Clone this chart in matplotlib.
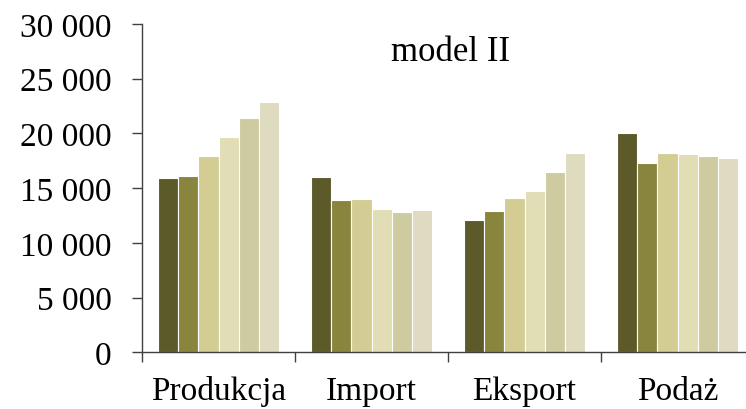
import matplotlib
matplotlib.use("Agg")
import matplotlib.pyplot as plt
import numpy as np
from matplotlib.ticker import FuncFormatter, FixedLocator

categories = ["Produkcja", "Import", "Eksport", "Podaż"]
series = [
    [15900, 16000, 12100, 20050],
    [16100, 13900, 12950, 17300],
    [17950, 14050, 14100, 18250],
    [19650, 13100, 14750, 18150],
    [21450, 12850, 16450, 17950],
    [22850, 13000, 18250, 17750],
]
colors = ["#5d5a2a", "#8a853e", "#d3cd94", "#e1ddb5", "#cfcba1", "#dedbc1"]
title = "model II"

W, H = 746, 410
fig = plt.figure(figsize=(W / 100, H / 100), dpi=100)
x0, x1 = 142, 754
y0, y1 = 353.3, 25
ax = fig.add_axes([x0 / W, (H - y0) / H, (x1 - x0) / W, (y0 - y1) / H])

font = "Liberation Serif"
fs = 24
n = len(series)
group = 0.79
bw = group / n
xc = np.arange(len(categories))
for i, vals in enumerate(series):
    ax.bar(xc - group / 2 + bw * (i + 0.5), vals, width=bw, color=colors[i],
           edgecolor="white", linewidth=0.8, zorder=2)

ax.set_xlim(-0.5, len(categories) - 0.5)
ax.set_ylim(0, 30000)
ax.set_yticks(np.arange(0, 30001, 5000))
ax.yaxis.set_major_formatter(FuncFormatter(lambda v, p: f"{int(v):,}".replace(",", " ")))
ax.xaxis.set_major_locator(FixedLocator(np.arange(len(categories) + 1) - 0.5))
ax.xaxis.set_minor_locator(FixedLocator(xc))
ax.set_xticklabels([], minor=False)
ax.set_xticklabels(categories, minor=True)
ax.tick_params(axis="x", which="major", direction="out", length=7, width=1, color="#404040")
ax.tick_params(axis="x", which="minor", length=0, pad=16.5, labelsize=fs)
ax.tick_params(axis="y", direction="out", length=7, width=1, color="#404040", labelsize=fs, pad=15)
for lab in ax.get_xticklabels(minor=True) + ax.get_yticklabels():
    lab.set_fontfamily(font)
for s in ["top", "right"]:
    ax.spines[s].set_visible(False)
for s in ["left", "bottom"]:
    ax.spines[s].set_color("#404040")
    ax.spines[s].set_linewidth(1)

fig.text(451 / W, 1 - 60.7 / H, title, ha="center", va="baseline", fontsize=fs + 1, fontfamily=font)
fig.savefig("out.png", dpi=100)
